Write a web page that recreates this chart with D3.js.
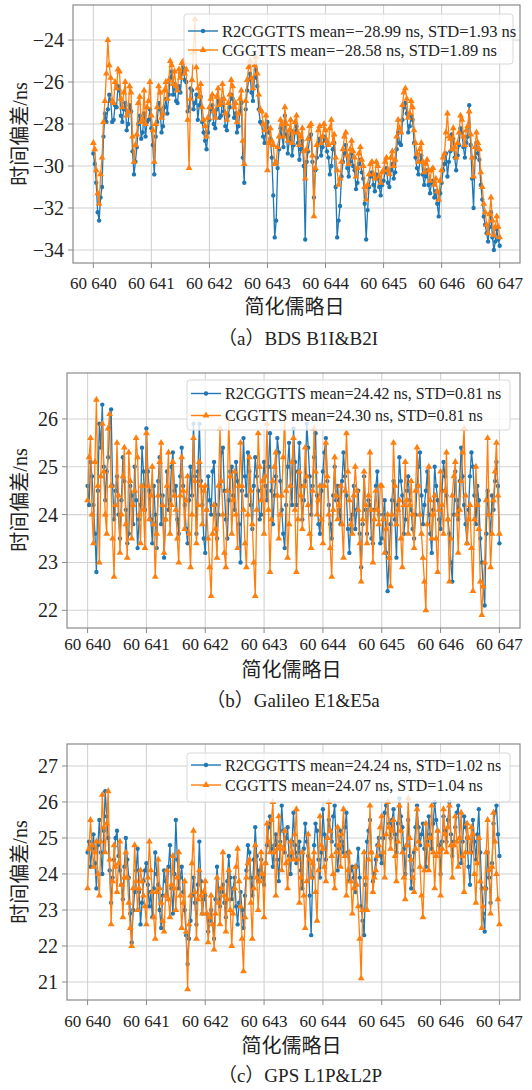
<!DOCTYPE html>
<html><head><meta charset="utf-8">
<script src="https://cdn.jsdelivr.net/npm/d3@7"></script>
<style>body{margin:0;background:#fff} svg{display:block}</style>
</head><body><svg id="c" width="532" height="1090"></svg>
<script>
// ---------------- DATA ----------------
const mjdStart = 60640, mjdStep = 0.025;   // sampling of the series (MJD)
const xTicks = [60640, 60641, 60642, 60643, 60644, 60645, 60646, 60647];
const xTickLabels = ["60 640","60 641","60 642","60 643","60 644","60 645","60 646","60 647"];

// (a) BDS B1I&B2I
const bdsR2 = [
-29.4,-29.9,-30.8,-32.2,-32.6,-31.5,-31.0,-28.6,-27.5,-27.9,-27.3,-26.6,-26.9,-27.9,-27.8,-27.1,-27.2,-26.2,-26.4,-27.6,-27.9,-27.3,-27.0,-28.3,-28.0,-27.1,-27.4,-29.3,-30.4,-29.8,-29.1,-28.0,-27.6,-28.7,-28.4,-27.5,-28.6,-27.9,-27.8,-27.3,
-28.2,-29.0,-30.4,-28.6,-27.9,-27.0,-27.3,-28.4,-28.1,-27.2,-26.8,-27.5,-26.6,-25.8,-25.5,-26.6,-26.1,-26.9,-27.0,-26.2,-26.5,-25.6,-25.3,-25.9,-26.0,-27.4,-27.2,-26.3,-26.4,-27.3,-27.0,-26.6,-27.8,-27.1,-26.7,-27.9,-28.4,-28.8,-29.2,-28.4,
-27.8,-27.3,-27.1,-28.0,-28.2,-27.3,-26.9,-27.7,-27.6,-26.8,-27.4,-28.1,-28.3,-27.6,-27.2,-26.6,-26.8,-27.7,-27.5,-28.4,-28.1,-27.4,-27.0,-29.6,-30.8,-27.3,-26.4,-25.9,-25.6,-26.5,-26.9,-25.8,-25.4,-26.2,-27.3,-27.9,-28.0,-28.6,-28.9,-28.2,
-27.9,-28.4,-28.7,-29.6,-31.4,-33.4,-32.6,-30.1,-29.2,-28.2,-28.6,-29.1,-27.6,-28.5,-29.4,-28.8,-28.3,-29.5,-29.0,-28.4,-28.1,-28.9,-29.7,-29.2,-28.8,-30.0,-33.5,-29.8,-29.3,-28.7,-28.5,-29.8,-31.5,-30.2,-29.6,-28.9,-28.7,-29.5,-29.1,-28.6,
-28.8,-29.3,-29.6,-30.4,-30.0,-29.2,-28.9,-31.0,-33.4,-32.6,-31.9,-30.5,-29.8,-29.4,-29.0,-30.1,-30.5,-29.8,-29.4,-30.0,-30.2,-31.1,-30.8,-29.9,-29.7,-30.3,-30.6,-31.8,-33.5,-32.1,-31.0,-30.5,-30.3,-30.9,-31.2,-30.4,-30.6,-31.0,-31.4,-30.9,
-30.7,-30.3,-30.1,-30.8,-31.0,-30.2,-29.9,-30.6,-30.3,-29.2,-28.4,-28.9,-29.0,-27.8,-27.2,-27.0,-27.5,-28.4,-28.1,-27.6,-27.8,-28.9,-29.6,-30.1,-30.4,-29.8,-29.5,-30.4,-30.9,-30.5,-30.2,-30.9,-31.3,-30.8,-30.7,-31.5,-31.2,-31.8,-32.4,-31.3,
-30.8,-30.2,-29.9,-29.4,-30.5,-29.8,-29.3,-28.5,-28.7,-29.6,-30.2,-29.5,-29.0,-28.2,-28.4,-29.1,-29.6,-28.9,-28.6,-27.1,-29.0,-30.6,-32.0,-29.6,-28.9,-29.4,-29.7,-30.9,-31.6,-32.4,-32.8,-33.2,-33.6,-32.9,-32.2,-33.4,-34.0,-33.6,-33.0,-33.5,
-33.8];
const bdsCg = [
-28.9,-29.2,-30.2,-31.3,-31.8,-30.4,-29.6,-27.9,-26.9,-25.6,-24.0,-25.2,-25.8,-26.9,-27.0,-26.0,-26.3,-25.4,-25.5,-26.8,-27.2,-26.5,-26.0,-27.6,-27.4,-26.2,-26.5,-28.6,-29.8,-29.0,-28.5,-27.0,-26.7,-27.9,-27.8,-26.4,-28.0,-27.2,-26.9,-26.0,
-27.6,-28.3,-29.8,-28.0,-27.2,-26.2,-26.5,-27.7,-27.5,-26.4,-26.0,-26.8,-25.9,-25.0,-25.2,-26.1,-25.5,-26.2,-26.4,-25.4,-25.8,-25.1,-25.0,-25.6,-25.4,-27.8,-30.1,-26.8,-25.9,-24.6,-23.0,-25.3,-26.3,-26.7,-26.1,-27.2,-27.8,-28.1,-28.6,-27.7,
-27.2,-26.8,-26.6,-27.4,-27.7,-26.7,-26.3,-27.1,-27.0,-26.1,-26.8,-27.5,-27.8,-27.0,-26.6,-25.9,-26.2,-27.2,-27.0,-27.9,-27.5,-26.8,-26.4,-28.8,-29.9,-26.9,-25.9,-25.3,-25.0,-25.8,-26.3,-25.2,-24.8,-25.6,-26.6,-27.3,-27.4,-28.0,-28.3,-27.6,
-30.2,-28.9,-28.2,-28.8,-29.0,-29.9,-29.8,-29.1,-28.6,-27.8,-28.0,-28.6,-27.2,-28.0,-28.8,-28.3,-27.8,-28.9,-28.4,-27.9,-27.6,-28.4,-29.0,-28.6,-28.2,-29.3,-30.6,-29.2,-28.7,-28.1,-28.0,-29.5,-32.4,-30.1,-29.0,-28.3,-28.1,-28.9,-28.6,-28.0,
-28.3,-28.8,-29.0,-28.2,-27.8,-28.9,-28.5,-29.6,-30.2,-30.9,-30.6,-29.8,-29.2,-28.6,-28.4,-29.5,-29.9,-29.2,-28.8,-29.3,-29.6,-30.5,-30.1,-29.4,-29.1,-29.7,-30.0,-31.0,-31.6,-30.9,-30.4,-29.9,-29.8,-30.4,-30.6,-29.8,-30.0,-30.5,-30.8,-30.3,
-30.2,-29.8,-29.6,-30.2,-30.4,-29.6,-29.3,-30.0,-29.7,-28.6,-27.8,-28.2,-28.4,-27.1,-26.5,-26.3,-26.8,-27.7,-27.5,-26.9,-27.2,-28.3,-28.9,-29.4,-29.8,-29.2,-28.9,-29.8,-30.3,-29.9,-29.7,-30.2,-30.7,-30.2,-30.1,-30.9,-30.6,-31.2,-31.6,-30.7,
-30.2,-29.6,-29.4,-28.4,-27.5,-28.6,-28.7,-29.2,-28.2,-29.1,-29.6,-28.9,-28.4,-27.6,-27.8,-28.6,-29.0,-28.3,-28.1,-27.4,-28.5,-29.6,-30.5,-29.1,-28.4,-28.9,-29.2,-30.3,-31.0,-31.8,-32.2,-32.8,-33.2,-32.3,-31.5,-32.6,-33.3,-32.9,-32.4,-32.9,
-33.4];

// (b) Galileo E1&E5a
const galR2 = [
24.6,24.2,25.1,24.8,24.2,23.6,22.8,24.5,25.9,25.4,26.3,25.0,24.3,24.9,25.2,25.8,26.2,24.6,23.9,24.5,24.8,24.0,23.5,24.3,25.2,24.7,24.1,23.4,23.6,24.6,24.4,23.8,25.0,24.3,23.3,23.9,24.2,25.4,24.9,24.1,
25.8,24.9,24.5,23.9,23.4,24.6,24.0,23.3,24.7,25.2,23.8,24.4,23.1,23.9,24.9,24.1,24.3,25.0,25.3,24.5,24.6,23.9,23.6,24.8,25.4,24.6,24.2,23.7,23.4,24.3,25.0,24.4,25.9,24.8,23.6,24.9,25.9,24.7,24.2,23.5,
23.2,24.1,24.8,24.3,24.0,24.9,25.1,24.2,23.5,24.0,24.6,25.3,25.4,24.5,23.9,23.5,24.3,24.9,25.0,24.4,24.1,25.1,24.7,23.8,23.0,24.5,25.6,24.8,24.4,25.3,24.9,24.2,23.7,24.6,25.2,24.8,24.5,23.9,24.0,24.7,
25.1,24.6,24.3,25.0,25.7,24.5,23.8,24.4,24.8,25.6,25.3,24.7,24.1,23.6,23.3,24.2,25.0,25.5,24.6,24.2,25.8,25.1,24.2,24.9,25.5,24.6,23.9,24.3,24.7,25.9,25.4,24.8,24.0,24.6,25.2,25.7,24.4,23.8,23.6,24.5,
24.9,25.3,25.6,24.7,24.2,23.8,23.5,24.4,25.0,24.3,24.6,24.1,23.8,24.7,25.3,24.8,24.4,23.7,23.2,23.9,24.0,24.6,23.7,24.1,24.5,23.6,22.9,23.8,24.8,24.1,23.6,24.3,24.2,23.5,23.4,24.1,24.6,24.9,24.0,23.4,
23.5,24.0,24.3,23.2,22.4,23.1,23.8,24.3,24.7,23.9,23.1,24.2,25.2,24.7,24.4,23.6,23.9,24.5,24.8,24.3,24.1,23.7,23.5,24.0,24.6,25.0,25.3,24.4,23.8,24.2,24.5,24.9,24.0,23.6,23.2,24.1,25.0,24.6,24.3,23.9,
23.7,24.5,25.1,24.8,24.4,23.9,23.6,23.0,22.6,24.0,24.9,24.3,23.9,24.7,25.4,24.8,24.2,23.8,23.4,24.1,24.8,25.3,25.0,24.4,23.8,24.6,24.3,23.5,23.0,22.5,22.1,23.6,24.5,24.0,23.6,24.4,24.1,24.7,25.1,24.6,
23.4];
const galCg = [
24.3,25.2,25.6,24.0,23.4,25.1,26.4,24.6,23.0,24.8,25.9,24.9,24.0,23.6,25.8,26.1,24.6,23.5,22.7,24.2,25.5,24.4,23.2,24.0,24.8,25.4,23.8,23.1,25.3,24.7,23.5,24.2,24.5,25.6,25.2,24.0,23.4,24.6,24.1,23.3,
25.7,24.6,23.9,24.4,25.0,23.8,22.7,23.6,24.4,25.1,25.5,24.2,23.2,23.9,24.6,25.3,23.6,24.2,25.1,24.4,24.1,23.5,23.0,24.4,25.2,24.5,23.7,24.3,24.8,23.6,22.9,24.0,25.6,24.7,23.4,24.2,25.1,24.6,23.8,24.5,
24.6,24.1,23.5,22.9,22.3,23.6,24.2,23.7,23.1,24.6,25.8,24.7,24.0,23.2,22.9,24.5,26.0,24.8,23.6,24.3,24.9,24.0,23.3,24.6,25.5,24.6,24.1,23.4,22.9,24.0,25.2,24.5,23.8,23.0,22.3,24.1,25.7,25.0,24.3,24.7,
23.6,24.8,25.9,24.1,22.8,23.9,24.7,25.0,25.3,24.4,23.5,24.0,24.4,25.2,26.1,24.5,23.1,23.8,24.6,25.1,25.6,24.1,22.8,23.9,24.9,24.4,23.7,24.6,25.4,24.8,24.2,23.6,23.3,24.5,25.8,24.9,24.0,24.3,24.6,23.9,
23.4,24.6,25.5,24.8,24.0,23.3,22.7,24.1,25.2,24.4,23.9,24.2,24.6,23.8,23.1,24.5,25.7,24.9,24.3,23.8,23.6,24.4,25.0,24.5,24.1,23.4,22.6,23.9,24.9,24.2,23.4,24.4,25.3,24.1,23.0,23.9,24.5,24.1,23.8,24.6,
24.6,23.9,23.2,23.7,24.0,23.1,22.5,24.0,25.5,24.6,23.8,24.1,24.3,23.5,22.9,24.2,25.1,24.3,23.6,24.2,24.7,24.0,23.3,24.5,25.4,24.6,24.0,23.6,23.1,22.6,22.0,23.8,25.0,24.3,23.5,24.0,24.4,23.5,22.8,24.1,
24.9,24.2,23.6,24.5,25.3,23.9,22.6,23.5,24.4,24.8,25.1,24.0,23.2,24.1,24.7,25.3,25.8,24.4,23.4,23.9,24.2,23.3,22.4,23.9,25.0,24.2,23.7,22.6,21.9,22.5,23.0,24.3,25.6,24.0,22.9,23.6,24.3,24.9,25.5,24.4,
23.6];

// (c) GPS L1P&L2P
const gpsR2 = [
24.6,24.9,24.2,24.7,25.1,24.3,23.6,24.8,25.5,24.6,24.0,25.2,26.3,25.6,25.0,24.1,23.2,23.9,24.4,25.0,25.2,24.5,24.1,23.7,23.3,24.2,25.0,24.4,23.9,22.9,22.1,23.0,23.5,24.1,24.7,23.5,22.6,23.2,23.8,24.1,
24.3,23.7,23.1,23.5,22.8,23.6,24.6,24.0,23.7,23.0,22.5,23.4,24.1,23.8,23.4,24.2,24.8,23.6,22.9,24.0,25.5,24.4,23.6,23.9,24.2,23.5,23.0,22.3,21.5,22.2,22.7,23.4,23.9,23.2,22.6,23.7,24.9,23.8,22.9,23.3,
23.4,22.9,22.4,22.7,23.0,22.6,22.2,23.3,24.2,23.6,23.1,23.5,23.7,23.2,22.8,23.8,24.5,23.9,23.3,23.6,23.9,23.1,22.6,23.2,23.5,23.0,22.5,23.4,24.1,24.8,24.6,23.9,23.4,24.4,25.3,24.5,23.8,24.1,24.4,23.9,
23.7,24.3,24.8,25.3,25.6,24.7,24.2,24.8,25.1,24.4,23.8,24.9,25.9,25.2,24.6,25.0,25.3,24.5,24.0,24.9,25.7,24.8,24.3,24.6,24.9,24.1,23.6,24.7,25.4,24.9,24.5,23.4,22.3,23.9,24.8,25.4,25.2,24.4,23.9,24.6,
25.8,25.1,24.4,25.0,25.5,25.2,24.9,25.6,25.9,24.8,24.1,24.7,25.2,24.9,24.6,25.3,25.7,24.6,23.8,24.1,24.2,23.9,23.5,24.2,24.7,23.9,23.1,22.7,22.3,23.7,24.9,25.2,25.5,24.6,23.8,24.0,24.4,24.8,25.0,24.5,
24.3,25.0,25.7,25.9,26.0,25.4,25.0,25.5,25.8,25.1,24.6,25.4,26.1,25.6,25.3,24.7,24.0,24.8,25.5,24.5,23.6,24.1,24.6,25.3,25.9,25.3,24.8,25.1,25.4,24.7,24.2,24.9,25.6,25.1,24.7,25.4,26.0,25.5,25.2,24.8,
24.0,24.9,25.6,25.2,24.9,25.5,26.0,25.1,24.5,24.9,25.3,25.7,25.9,25.0,24.3,24.9,25.6,25.3,25.0,24.2,23.7,24.6,25.5,24.9,24.4,25.1,25.8,24.6,23.6,22.9,22.4,23.6,24.6,23.9,23.2,24.3,25.4,25.7,25.9,25.1,
24.5];
const gpsCg = [
23.6,24.7,25.5,24.8,24.2,24.6,24.9,24.0,23.4,24.9,26.2,25.3,24.6,25.4,26.3,24.4,22.6,23.8,24.8,24.2,23.5,24.3,24.9,23.7,22.8,23.9,24.6,23.9,23.2,22.5,22.0,23.6,24.8,23.8,23.0,23.6,24.1,23.8,23.4,23.1,
22.6,23.9,24.9,24.1,23.5,22.8,22.2,23.5,24.4,23.6,23.2,22.7,22.4,23.4,24.1,23.3,22.8,23.7,24.5,23.6,23.0,23.9,24.6,23.4,22.5,23.2,23.8,22.4,20.8,22.6,23.4,24.3,25.2,23.5,22.2,23.3,24.1,23.4,22.9,23.5,
23.8,22.9,22.1,22.8,23.4,22.6,21.9,22.9,23.9,23.2,22.6,23.6,24.6,23.4,22.4,23.3,24.1,23.0,22.0,22.9,23.6,24.2,24.7,23.8,23.1,22.2,21.3,22.8,23.9,24.3,24.4,23.2,22.2,23.6,24.8,23.9,23.0,23.8,24.6,24.0,
22.8,24.3,25.4,24.9,24.6,25.5,26.0,24.6,23.4,24.7,25.6,24.8,24.1,24.7,25.2,24.3,23.6,24.4,24.9,24.6,24.4,25.1,25.8,24.4,23.2,23.9,24.6,23.4,22.5,23.8,25.1,24.4,23.9,24.3,24.6,23.5,22.7,24.1,25.6,24.8,
24.7,24.2,23.8,25.0,26.0,25.2,24.5,24.0,23.6,24.6,25.3,24.8,24.2,25.1,25.8,24.5,23.4,24.1,24.6,23.8,22.9,23.6,24.2,23.7,23.1,22.2,21.1,23.0,24.6,23.9,23.0,24.4,25.9,24.6,23.5,23.9,24.1,24.5,24.8,25.3,
25.6,24.6,23.9,25.1,26.0,25.3,24.7,25.2,25.5,24.5,23.8,24.9,25.9,25.2,24.6,23.9,23.3,24.8,26.1,25.0,24.4,23.9,23.5,24.7,25.8,24.9,24.2,23.4,22.8,24.1,25.4,24.8,24.1,25.0,25.9,24.6,23.6,24.5,25.2,24.6,
23.4,24.7,25.8,25.1,24.6,25.3,25.9,24.8,23.9,24.8,25.6,24.9,24.2,25.0,25.7,24.5,23.5,24.6,25.4,25.0,24.6,25.3,25.1,24.0,23.2,24.3,25.0,23.8,22.5,23.1,23.6,24.6,25.5,24.1,22.9,24.2,25.7,24.9,24.0,23.3,
22.6];

const yTicksA = [-34,-32,-30,-28,-26,-24];
const yTicksB = [22,23,24,25,26];
const yTicksC = [21,22,23,24,25,26,27];

const legendA = ["R2CGGTTS mean=\u221228.99 ns, STD=1.93 ns", "CGGTTS mean=\u221228.58 ns, STD=1.89 ns"];
const legendB = ["R2CGGTTS mean=24.42 ns, STD=0.81 ns", "CGGTTS mean=24.30 ns, STD=0.81 ns"];
const legendC = ["R2CGGTTS mean=24.24 ns, STD=1.02 ns", "CGGTTS mean=24.07 ns, STD=1.04 ns"];

const captions = ["（a）BDS B1I&B2I", "（b）Galileo E1&E5a", "（c）GPS L1P&L2P"];
const yLabel = "时间偏差/ns";
const xLabel = "简化儒略日";

// ---------------- LAYOUT ----------------
const panels = [
  {L:73, R:520, T:5,   B:263,  yDom:[-34.62,-22.33], yTicks:yTicksA, s1:bdsR2, s2:bdsCg, leg:legendA,
   legBox:[184,14,513,64], legRows:[31,50], legFont:16.5, xLabY:288.5, xTitleY:307, capY:338, capX:298, ylabY:134, cap:captions[0]},
  {L:67, R:520, T:373, B:628,  yDom:[21.63,26.96],  yTicks:yTicksB, s1:galR2, s2:galCg, leg:legendB,
   legBox:[187,380,510,430], legRows:[393.5,415.5], legFont:16, xLabY:650, xTitleY:670, capY:700, capX:293, ylabY:500, cap:captions[1]},
  {L:67, R:520, T:744, B:1000, yDom:[20.5,27.61],   yTicks:yTicksC, s1:gpsR2, s2:gpsCg, leg:legendC,
   legBox:[187,753,510,802], legRows:[765,785], legFont:16, xLabY:1027, xTitleY:1046, capY:1075, capX:300, ylabY:872, cap:captions[2]}
];

const BLUE = "#1f77b4", ORANGE = "#ff7f0e";
const SERIF = "'Liberation Serif','Times New Roman',serif";
const MIXED = "'Liberation Serif','Noto Sans CJK SC',serif";
const CJK = "'Noto Sans CJK SC','Liberation Serif',sans-serif";

const svg = d3.select("#c");
const circleSym = d3.symbol().type(d3.symbolCircle).size(15);
const triSym = d3.symbol().type(d3.symbolTriangle).size(20);

panels.forEach(p => {
  const x = d3.scaleLinear().domain([60639.65, 60647.35]).range([p.L, p.R]);
  const y = d3.scaleLinear().domain(p.yDom).range([p.B, p.T]);
  const g = svg.append("g");

  // grid
  g.append("g").selectAll("line").data(xTicks).join("line")
    .attr("x1", d => x(d)).attr("x2", d => x(d)).attr("y1", p.T).attr("y2", p.B)
    .attr("stroke", "#d2d2d2").attr("stroke-width", 1.1);
  g.append("g").selectAll("line").data(p.yTicks).join("line")
    .attr("y1", d => y(d)).attr("y2", d => y(d)).attr("x1", p.L).attr("x2", p.R)
    .attr("stroke", "#d2d2d2").attr("stroke-width", 1.1);

  // series
  const drawSeries = (vals, color, sym) => {
    const pts = vals.map((v, i) => [mjdStart + i * mjdStep, v]);
    g.append("path").datum(pts)
      .attr("d", d3.line().x(d => x(d[0])).y(d => y(d[1])))
      .attr("fill", "none").attr("stroke", color).attr("stroke-width", 1.3)
      .attr("stroke-linejoin", "round");
    g.append("g").selectAll("path").data(pts).join("path")
      .attr("fill", color).attr("d", sym())
      .attr("transform", d => `translate(${x(d[0])},${y(d[1])})`);
  };
  drawSeries(p.s1, BLUE, circleSym);
  drawSeries(p.s2, ORANGE, triSym);

  // frame
  g.append("rect").attr("x", p.L).attr("y", p.T).attr("width", p.R - p.L).attr("height", p.B - p.T)
    .attr("fill", "none").attr("stroke", "#8a8a8a").attr("stroke-width", 1.2);

  // x axis ticks
  const xa = g.append("g");
  xa.selectAll("line").data(xTicks).join("line")
    .attr("x1", d => x(d)).attr("x2", d => x(d)).attr("y1", p.B).attr("y2", p.B + 5)
    .attr("stroke", "#8a8a8a").attr("stroke-width", 1);
  xa.selectAll("text").data(xTicks).join("text")
    .attr("x", d => x(d)).attr("y", p.xLabY).attr("text-anchor", "middle")
    .attr("font-family", SERIF).attr("font-size", 17).attr("fill", "#222")
    .text((d, i) => xTickLabels[i]);

  // y axis ticks
  const ya = g.append("g");
  ya.selectAll("line").data(p.yTicks).join("line")
    .attr("x1", p.L - 5).attr("x2", p.L).attr("y1", d => y(d)).attr("y2", d => y(d))
    .attr("stroke", "#8a8a8a").attr("stroke-width", 1);
  ya.selectAll("text").data(p.yTicks).join("text")
    .attr("x", p.L - 9).attr("y", d => y(d)).attr("dy", "0.35em").attr("text-anchor", "end")
    .attr("font-family", SERIF).attr("font-size", 20).attr("fill", "#222")
    .text(d => d3.format("d")(d));

  // axis titles
  g.append("text").attr("x", (p.L + p.R) / 2 - 2).attr("y", p.xTitleY).attr("dy", "0.35em")
    .attr("text-anchor", "middle").attr("font-family", CJK).attr("font-size", 20).attr("fill", "#222")
    .text(xLabel);
  g.append("text").attr("transform", `translate(20,${p.ylabY}) rotate(-90)`).attr("dy", "0.35em")
    .attr("text-anchor", "middle").attr("font-family", MIXED).attr("font-size", 20).attr("fill", "#222")
    .text(yLabel);

  // caption
  g.append("text").attr("x", p.capX).attr("y", p.capY).attr("dy", "0.35em")
    .attr("text-anchor", "middle").attr("font-family", MIXED).attr("font-size", 19).attr("fill", "#222")
    .text(p.cap);

  // legend
  const [lx0, ly0, lx1, ly1] = p.legBox;
  const lg = g.append("g");
  lg.append("rect").attr("x", lx0).attr("y", ly0).attr("width", lx1 - lx0).attr("height", ly1 - ly0)
    .attr("rx", 3).attr("fill", "#fff").attr("fill-opacity", 0.8).attr("stroke", "#d8d8d8").attr("stroke-width", 1);
  const cols = [BLUE, ORANGE], syms = [circleSym, triSym];
  p.leg.forEach((txt, k) => {
    const yy = p.legRows[k];
    lg.append("line").attr("x1", lx0 + 4).attr("x2", lx0 + 34).attr("y1", yy).attr("y2", yy)
      .attr("stroke", cols[k]).attr("stroke-width", 1.4);
    lg.append("path").attr("fill", cols[k]).attr("d", syms[k]())
      .attr("transform", `translate(${lx0 + 19},${yy})`);
    lg.append("text").attr("x", lx0 + 38).attr("y", yy).attr("dy", "0.35em")
      .attr("font-family", SERIF).attr("font-size", p.legFont).attr("fill", "#222").text(txt);
  });
});
</script></body></html>
